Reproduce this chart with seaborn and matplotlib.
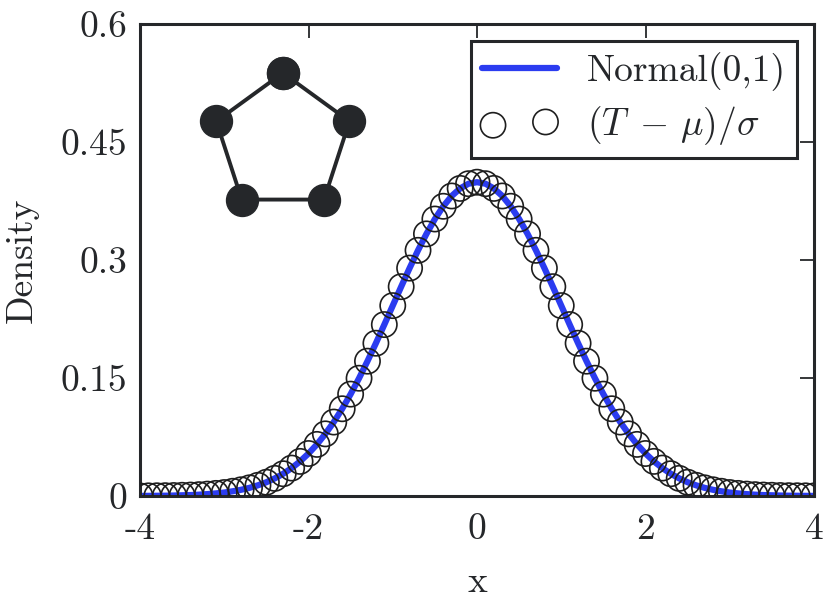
import numpy as np
import pandas as pd
import matplotlib
matplotlib.use("Agg")
import matplotlib.pyplot as plt
import seaborn as sns

# Grid of x points and density values (step 0.1)
x_vals = np.linspace(-4, 4, 81)
density = [
    0.0001, 0.0002, 0.0003, 0.0004, 0.0006, 0.0009, 0.0012, 0.0017, 0.0024, 0.0033,
    0.0044, 0.0060, 0.0079, 0.0104, 0.0136, 0.0175, 0.0224, 0.0283, 0.0355, 0.0440,
    0.0540, 0.0656, 0.0790, 0.0940, 0.1109, 0.1295, 0.1497, 0.1714, 0.1942, 0.2179,
    0.2420, 0.2661, 0.2897, 0.3123, 0.3332, 0.3521, 0.3683, 0.3814, 0.3910, 0.3970,
    0.3989,
    0.3970, 0.3910, 0.3814, 0.3683, 0.3521, 0.3332, 0.3123, 0.2897, 0.2661, 0.2420,
    0.2179, 0.1942, 0.1714, 0.1497, 0.1295, 0.1109, 0.0940, 0.0790, 0.0656, 0.0540,
    0.0440, 0.0355, 0.0283, 0.0224, 0.0175, 0.0136, 0.0104, 0.0079, 0.0060, 0.0044,
    0.0033, 0.0024, 0.0017, 0.0012, 0.0009, 0.0006, 0.0004, 0.0003, 0.0002, 0.0001,
]
standardized = list(density)  # (T - mu)/sigma, sits on the curve

x_ticks = [-4, -2, 0, 2, 4]
x_tick_labels = ["-4", "-2", "0", "2", "4"]
y_ticks = [0, 0.15, 0.3, 0.45, 0.6]
y_tick_labels = ["0", "0.15", "0.3", "0.45", "0.6"]

df = pd.DataFrame({"x": x_vals, "normal": density, "std": standardized})

sns.set_theme(style="white")
plt.rcParams["font.family"] = ["cmr10", "DejaVu Serif"]
plt.rcParams["mathtext.fontset"] = "cm"
plt.rcParams["axes.formatter.use_mathtext"] = True

dark = "#25272a"
fs = 27

fig = plt.figure(figsize=(8.24, 6.0), dpi=100)
ax = fig.add_axes([140 / 824, 1 - 496 / 600, 674 / 824, 472 / 600])

sns.lineplot(data=df, x="x", y="normal", ax=ax, color="#2b3cf0", lw=4.5,
             label="Normal(0,1)", zorder=2)
sns.scatterplot(data=df, x="x", y="std", ax=ax, s=330, marker="o",
                facecolor="none", edgecolor="#1e1e1e", linewidth=1.2,
                label=r"$(T\;-\,\mu)/\sigma$", zorder=3)

ax.set_xlim(-4, 4)
ax.set_ylim(0, 0.6)
ax.set_xticks(x_ticks)
ax.set_xticklabels(x_tick_labels)
ax.set_yticks(y_ticks)
ax.set_yticklabels(y_tick_labels)
ax.tick_params(direction="in", length=10, width=1.3, colors=dark,
               labelsize=fs, top=True, right=True, pad=9)
ax.tick_params(axis="x", pad=12)
ax.set_xlabel("x", fontsize=fs, color=dark, labelpad=14)
ax.set_ylabel("Density", fontsize=fs, color=dark, labelpad=16)
for sp in ax.spines.values():
    sp.set_linewidth(2.2)
    sp.set_color(dark)

leg = ax.legend(loc="upper right", fontsize=fs, scatterpoints=2,
                handlelength=2.0, handletextpad=0.8, borderaxespad=0.45,
                labelspacing=0.35, borderpad=0.3, fancybox=False,
                framealpha=1, edgecolor=dark)
leg.get_frame().set_linewidth(2.2)
for t in leg.get_texts():
    t.set_color(dark)

# Pentagon icon in the upper-left corner
cx, cy, rx, ry = 0.212, 0.748, 70 / 674, 70 / 472
ang = np.deg2rad(90 + 72 * np.arange(6))
ax.plot(cx + rx * np.cos(ang), cy + ry * np.sin(ang), transform=ax.transAxes,
        color=dark, lw=2.8, marker="o", markersize=23, zorder=4, clip_on=False)

fig.savefig("out.png", dpi=100)
